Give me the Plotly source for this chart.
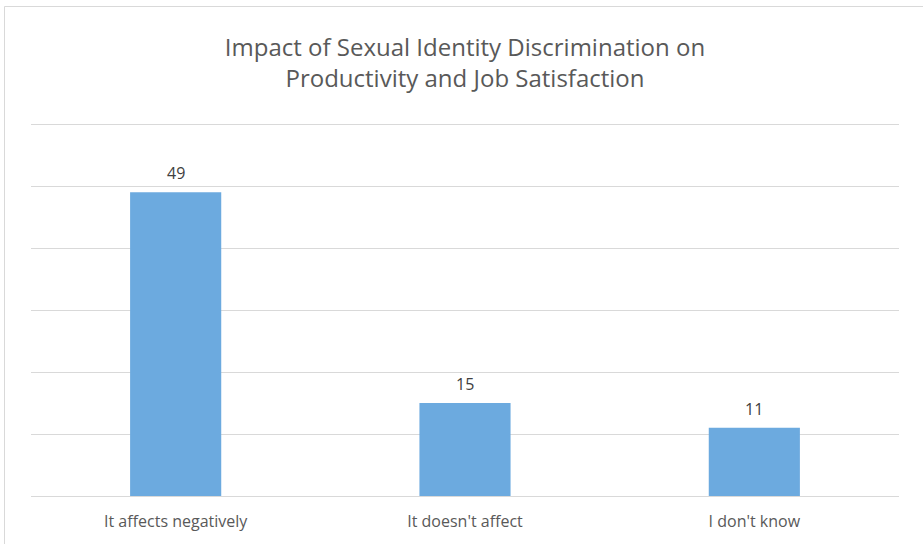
import plotly.graph_objects as go

# Survey responses
categories = ["It affects negatively", "It doesn't affect", "I don't know"]
counts = [49, 15, 11]
y_ticks = [0, 10, 20, 30, 40, 50, 60]

W, H = 923, 544
left, right, top, bottom = 31, 24, 118, 48
plot_w = W - left - right
plot_h = H - top - bottom
# 6.2 px per unit; leave a little headroom so the 60 gridline is drawn
y_max = plot_h / 6.2

fig = go.Figure(
    go.Bar(
        x=categories,
        y=counts,
        marker=dict(color="#6CAADF", line=dict(width=0)),
        hoverinfo="skip",
    )
)

# value labels above each bar
for cat, val in zip(categories, counts):
    fig.add_annotation(
        x=cat,
        y=val,
        text=str(val),
        showarrow=False,
        yanchor="middle",
        yshift=19,
        font=dict(family="Open Sans", size=16, color="#404040"),
    )

fig.update_layout(
    width=W,
    height=H,
    margin=dict(l=left, r=right, t=top, b=bottom),
    paper_bgcolor="white",
    plot_bgcolor="white",
    bargap=0.685,
    showlegend=False,
    title=dict(
        text="Impact of Sexual Identity Discrimination on<br>Productivity and Job Satisfaction",
        x=(left + plot_w / 2) / W,
        xanchor="center",
        y=1 - 56 / H,
        yanchor="middle",
        yref="container",
        font=dict(family="Open Sans", size=24, color="#595959"),
    ),
    xaxis=dict(
        showgrid=False,
        showline=False,
        zeroline=False,
        ticks="",
        ticklabelstandoff=14,
        tickfont=dict(family="Open Sans", size=16, color="#595959"),
    ),
    yaxis=dict(
        range=[0, y_max],
        tickvals=y_ticks,
        showticklabels=False,
        showgrid=True,
        gridcolor="#D9D9D9",
        gridwidth=1,
        zeroline=True,
        zerolinecolor="#D9D9D9",
        zerolinewidth=1,
        showline=False,
    ),
    shapes=[
        dict(
            type="rect",
            xref="paper",
            yref="paper",
            x0=(4.5 - left) / plot_w,
            x1=(W + 10 - left) / plot_w,
            y0=-(H + 10 - (H - bottom)) / plot_h,
            y1=((H - bottom) - 6.5) / plot_h,
            line=dict(color="#D9D9D9", width=1),
            fillcolor="rgba(0,0,0,0)",
            layer="below",
        )
    ],
)

fig.write_html("out.html")
